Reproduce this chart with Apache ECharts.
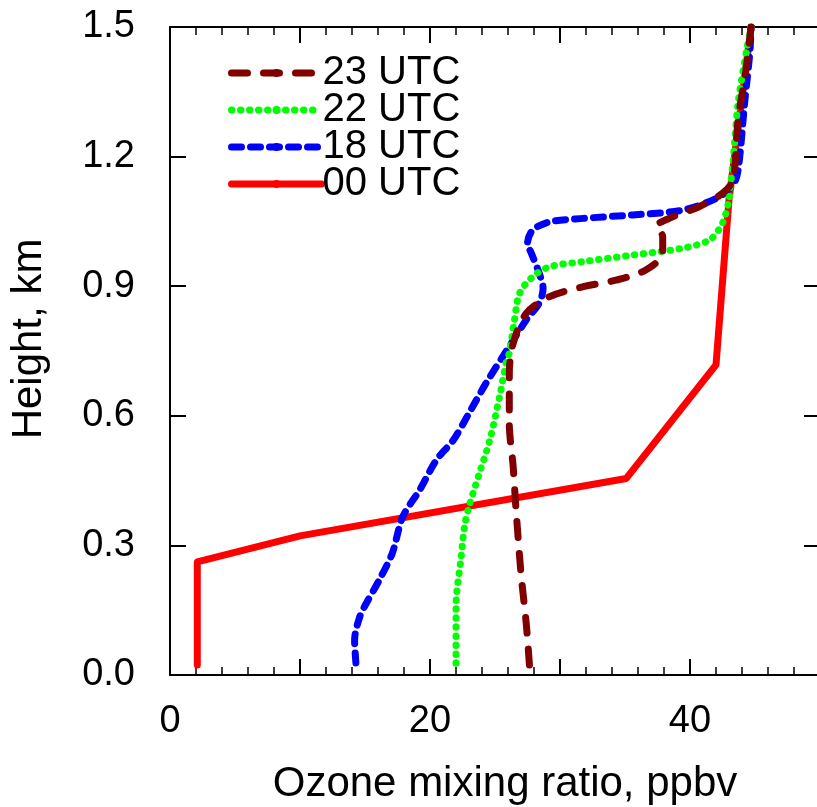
<!DOCTYPE html>
<html>
<head>
<meta charset="utf-8">
<script src="https://cdn.jsdelivr.net/npm/echarts@6/dist/echarts.min.js"></script>
<style>
  html, body { margin: 0; padding: 0; background: #fff; }
  #chart { width: 817px; height: 807px; }
</style>
</head>
<body>
<div id="chart"></div>
<script>
// ozone (ppbv) against height (km)
const seriesNames = ['23 UTC', '22 UTC', '18 UTC', '00 UTC']

const ozone00 = [2.1, 2.1, 10.0, 35.1, 42.0, 43.0, 44.7]
const height00 = [0.023, 0.262, 0.322, 0.455, 0.718, 1.10, 1.5]

const ozone18 = [14.3, 14.2, 14.6, 15.1, 16.1, 17.1, 17.9, 19.2, 20.5, 21.8, 23.0, 24.3, 25.6, 26.4, 27.4, 28.4, 28.7, 28.4, 27.8, 27.5, 27.9, 29.2, 31.8, 35.6, 39.4, 42.0, 43.3, 43.7, 44.2, 44.6, 44.7]
const height18 = [0.028, 0.081, 0.135, 0.166, 0.22, 0.282, 0.366, 0.428, 0.498, 0.544, 0.606, 0.675, 0.737, 0.775, 0.822, 0.861, 0.895, 0.93, 0.976, 0.999, 1.03, 1.049, 1.057, 1.065, 1.076, 1.103, 1.134, 1.169, 1.324, 1.44, 1.5]

const ozone22 = [22.0, 22.0, 22.4, 22.65, 23.0, 23.8, 24.6, 25.35, 25.9, 26.1, 26.5, 26.9, 27.9, 29.2, 31.8, 35.6, 39.4, 41.5, 42.5, 43.0, 43.1, 43.3, 43.7, 44.4, 44.7]
const height22 = [0.027, 0.158, 0.274, 0.343, 0.39, 0.467, 0.544, 0.644, 0.729, 0.745, 0.822, 0.884, 0.922, 0.945, 0.957, 0.972, 0.988, 1.007, 1.046, 1.10, 1.13, 1.184, 1.324, 1.454, 1.5]

const ozone23 = [27.65, 27.4, 27.0, 26.6, 26.4, 26.1, 26.1, 26.4, 27.4, 29.2, 31.8, 34.3, 36.6, 37.9, 37.9, 37.4, 38.7, 40.7, 42.5, 43.3, 43.7, 44.3, 44.7]
const height23 = [0.023, 0.12, 0.235, 0.39, 0.482, 0.583, 0.698, 0.768, 0.837, 0.876, 0.899, 0.914, 0.9375, 0.976, 1.015, 1.038, 1.061, 1.084, 1.115, 1.146, 1.285, 1.40, 1.5]

const xTicksLabelled = [0, 20, 40]

const FONT = "'Liberation Sans', Arial, Helvetica, sans-serif"

function pairs(xs, ys) {
  return xs.map((x, i) => [x, ys[i]])
}

const chart = echarts.init(document.getElementById('chart'))

const baseX = {
  type: 'value',
  min: 0,
  max: 50,
  interval: 10,
  splitLine: { show: false },
  axisLine: { show: true, onZero: false, lineStyle: { color: '#000', width: 2 } },
  axisTick: { show: true, inside: true, length: 16, lineStyle: { color: '#000', width: 2 } },
  minorTick: { show: true, splitNumber: 5, length: 8, lineStyle: { color: '#000', width: 1.5 } }
}

const baseY = {
  type: 'value',
  min: 0,
  max: 1.5,
  interval: 0.3,
  splitLine: { show: false },
  axisLine: { show: true, onZero: false, lineStyle: { color: '#000', width: 2 } },
  axisTick: { show: true, inside: true, length: 16, lineStyle: { color: '#000', width: 2 } }
}

chart.setOption({
  animation: false,
  grid: {
    left: 170,
    top: 27,
    width: 650,
    height: 648,
    containLabel: false,
    outerBoundsMode: 'none'
  },
  legend: {
    left: 228,
    top: 53,
    orient: 'vertical',
    padding: 0,
    itemGap: -3,
    itemWidth: 90,
    itemHeight: 10,
    data: seriesNames,
    lineStyle: { width: 7 },
    textStyle: { fontFamily: FONT, fontSize: 40, color: '#000', lineHeight: 36, padding: [0, 0, 0, -4] }
  },
  xAxis: [
    Object.assign({}, baseX, {
      position: 'bottom',
      name: 'Ozone mixing ratio, ppbv',
      nameLocation: 'middle',
      nameGap: 88,
      nameTextStyle: { fontFamily: FONT, fontSize: 42, color: '#000', padding: [0, 0, 0, 20] },
      axisLabel: {
        fontFamily: FONT,
        fontSize: 38,
        color: '#000',
        margin: 28,
        formatter: (v) => (xTicksLabelled.includes(v) ? String(v) : '')
      }
    }),
    Object.assign({}, baseX, {
      position: 'top',
      axisLabel: { show: false }
    })
  ],
  yAxis: [
    Object.assign({}, baseY, {
      position: 'left',
      name: 'Height, km',
      nameLocation: 'middle',
      nameGap: 120,
      nameTextStyle: { fontFamily: FONT, fontSize: 42, color: '#000', padding: [0, 0, 0, 24] },
      axisLabel: {
        fontFamily: FONT,
        fontSize: 38,
        color: '#000',
        margin: 35,
        formatter: (v) => v.toFixed(1)
      }
    }),
    Object.assign({}, baseY, {
      position: 'right',
      axisLabel: { show: false }
    })
  ],
  series: [
    {
      name: '00 UTC',
      type: 'line',
      symbol: 'none',
      z: 2,
      data: pairs(ozone00, height00),
      lineStyle: { color: '#ff0000', width: 7, cap: 'round', join: 'round' },
      itemStyle: { color: '#ff0000' }
    },
    {
      name: '18 UTC',
      type: 'line',
      symbol: 'none',
      smooth: 0.3,
      z: 3,
      data: pairs(ozone18, height18),
      lineStyle: { color: '#0000ff', width: 7, type: [10, 9], cap: 'round', join: 'round' },
      itemStyle: { color: '#0000ff' }
    },
    {
      name: '22 UTC',
      type: 'line',
      symbol: 'none',
      smooth: 0.3,
      z: 4,
      data: pairs(ozone22, height22),
      lineStyle: { color: '#00ff00', width: 7, type: [0.5, 8.5], cap: 'round', join: 'round' },
      itemStyle: { color: '#00ff00' }
    },
    {
      name: '23 UTC',
      type: 'line',
      symbol: 'none',
      smooth: 0.3,
      z: 5,
      data: pairs(ozone23, height23),
      lineStyle: { color: '#800000', width: 7, type: [16, 16], cap: 'round', join: 'round' },
      itemStyle: { color: '#800000' }
    }
  ]
})
</script>
</body>
</html>
